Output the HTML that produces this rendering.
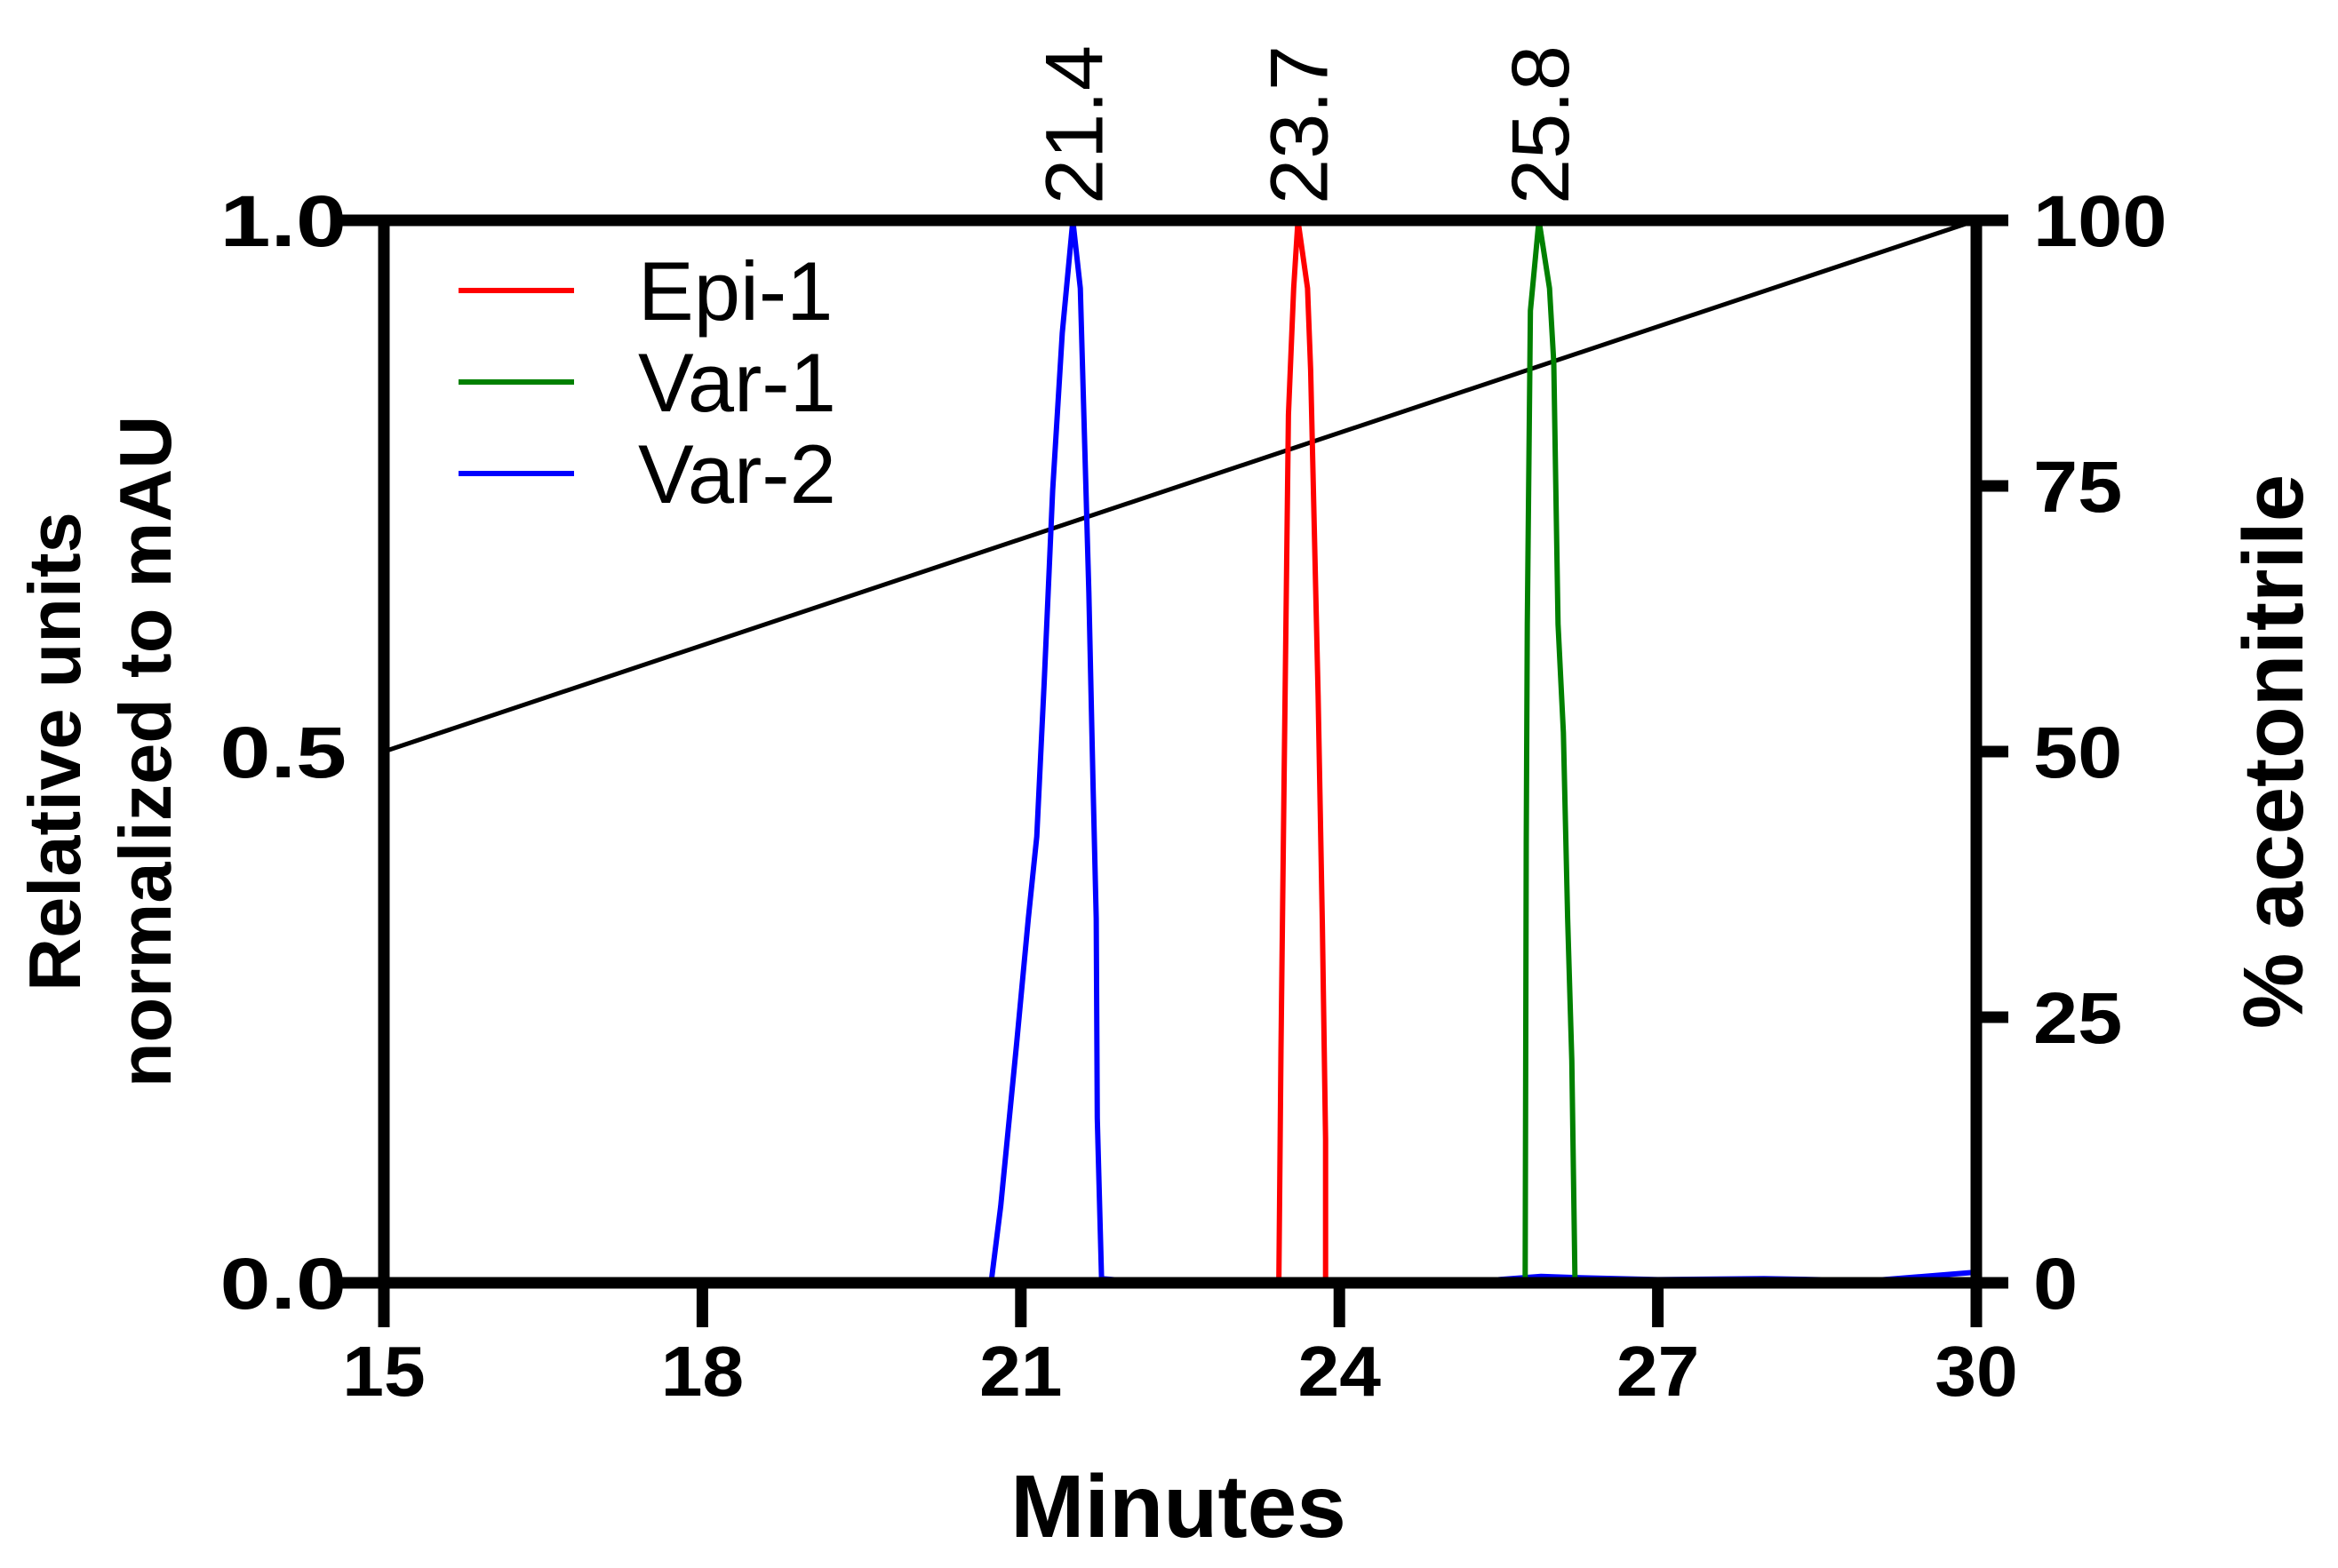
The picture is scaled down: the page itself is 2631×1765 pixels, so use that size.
<!DOCTYPE html>
<html><head><meta charset="utf-8"><style>
html,body{margin:0;padding:0;background:#fff}
svg{display:block}
text{font-family:"Liberation Sans",Arial,sans-serif}
</style></head><body>
<svg id="chart" width="2631" height="1765" viewBox="0 0 2631 1765" xmlns="http://www.w3.org/2000/svg">
<g id="plot"></g>
</svg>
<script>
const xTicks = [15, 18, 21, 24, 27, 30];
const yTicksLeft = ["0.0", "0.5", "1.0"];
const yTicksLeftVals = [0, 0.5, 1.0];
const yTicksRight = [0, 25, 50, 75, 100];
const gradientX = [15, 30];
const gradientY = [50, 100];
const epi1X = [23.43, 23.45, 23.48, 23.52, 23.57, 23.61, 23.70, 23.73, 23.80, 23.84, 23.87, 23.87];
const epi1Y = [0, 0.218, 0.48, 0.817, 0.936, 1.0, 0.936, 0.859, 0.553, 0.336, 0.135, 0];
const var1X = [25.75, 25.76, 25.77, 25.80, 25.88, 25.98, 26.02, 26.06, 26.11, 26.15, 26.19, 26.22];
const var1Y = [0, 0.413, 0.62, 0.915, 1.0, 0.936, 0.866, 0.62, 0.518, 0.343, 0.209, 0];
const var2X = [16.0, 17.0, 18.0, null, 20.72, 20.81, 20.96, 21.07, 21.15, 21.22, 21.30, 21.39, 21.49, 21.56, 21.64, 21.68, 21.71, 21.72, 21.76, 21.99, 23.0, 24.0, 25.0, 25.5, 25.9, 26.2, 27.0, 28.0, 29.0, 30.0];
const var2Y = [0, 0.002, 0.001, null, 0, 0.072, 0.225, 0.343, 0.42, 0.566, 0.746, 0.894, 1.0, 0.936, 0.65, 0.47, 0.343, 0.155, 0.004, 0.002, 0.002, 0.002, 0.002, 0.003, 0.006, 0.005, 0.003, 0.004, 0.002, 0.01];
const peakLabels = ["21.4", "23.7", "25.8"];
const peakLabelX = [21.49, 23.61, 25.88];
const legendNames = ["Epi-1", "Var-1", "Var-2"];
const legendColors = ["#ff0000", "#008000", "#0000ff"];

const L = 432, R = 2224, T = 248, B = 1444;
const xS = v => L + (v - 15) / 15 * (R - L);
const yS = v => B - v * (B - T);
const yR = v => B - v / 100 * (B - T);
const NS = "http://www.w3.org/2000/svg";
const g = document.getElementById('plot');
function mk(tag, attrs, parent) {
  const e = document.createElementNS(NS, tag);
  for (const k in attrs) e.setAttribute(k, attrs[k]);
  (parent || g).appendChild(e);
  return e;
}
function pathFrom(xs, ys, yf) {
  let d = "", pen = false;
  for (let i = 0; i < xs.length; i++) {
    if (xs[i] === null) { pen = false; continue; }
    d += (pen ? "L" : "M") + xS(xs[i]).toFixed(1) + "," + yf(ys[i]).toFixed(1);
    pen = true;
  }
  return d;
}
let e = mk('path', {d: pathFrom(gradientX, gradientY, yR), stroke: '#000', 'stroke-width': 5, fill: 'none'});


const series = [[var2X, var2Y, '#0000ff', 'var-2-line'], [epi1X, epi1Y, '#ff0000', 'epi-1-line'], [var1X, var1Y, '#008000', 'var-1-line']];
series.forEach(s => {
  const p = mk('path', {d: pathFrom(s[0], s[1], yS), stroke: s[2], 'stroke-width': 6, fill: 'none', 'stroke-linejoin': 'round'});
  
  
});
const AW = 13;
e = mk('line', {x1: L - 55, y1: T, x2: R + 6, y2: T, stroke: '#000', 'stroke-width': AW});


e = mk('line', {x1: L - 55, y1: B, x2: R + 6, y2: B, stroke: '#000', 'stroke-width': AW});


e = mk('line', {x1: L, y1: T - 6, x2: L, y2: B + 50, stroke: '#000', 'stroke-width': AW});


e = mk('line', {x1: R, y1: T - 6, x2: R, y2: B + 50, stroke: '#000', 'stroke-width': AW});


xTicks.forEach(v => {
  const t = mk('line', {x1: xS(v), y1: B, x2: xS(v), y2: B + 50, stroke: '#000', 'stroke-width': AW});
  
  
  const l = mk('text', {x: 0, y: 0, 'font-size': 80, 'font-weight': 'bold', 'text-anchor': 'middle', transform: `translate(${xS(v)} ${B + 127}) scale(1.05 1)`});
  l.textContent = v;
  
  
});
yTicksLeftVals.forEach((v, i) => {
  const l = mk('text', {x: 0, y: 0, 'font-size': 82, 'font-weight': 'bold', 'text-anchor': 'end', transform: `translate(390 ${yS(v) + 29}) scale(1.25 1)`});
  l.textContent = yTicksLeft[i];
  
  
});
yTicksRight.forEach(v => {
  const t = mk('line', {x1: R, y1: yR(v), x2: R + 36, y2: yR(v), stroke: '#000', 'stroke-width': AW});
  
  
  const l = mk('text', {x: 0, y: 0, 'font-size': 82, 'font-weight': 'bold', 'text-anchor': 'start', transform: `translate(2288 ${yR(v) + 29}) scale(1.1 1)`});
  l.textContent = v;
  
  
});
peakLabels.forEach((s, i) => {
  const x = xS(peakLabelX[i]) + 33, y = 230;
  const l = mk('text', {x: x, y: y, 'font-size': 92, transform: `rotate(-90 ${x} ${y})`});
  l.textContent = s;
  
  
});
legendNames.forEach((n, i) => {
  const y = 327 + i * 103;
  const ln = mk('line', {x1: 516, y1: y, x2: 646, y2: y, stroke: legendColors[i], 'stroke-width': 6});
  
  
  const t = mk('text', {x: 718, y: y + 33, 'font-size': 94});
  t.textContent = n;
  
  
});
e = mk('text', {x: 1326, y: 1730, 'font-size': 100, 'font-weight': 'bold', 'text-anchor': 'middle'});
e.textContent = 'Minutes';


e = mk('text', {x: 0, y: 0, 'font-size': 83, 'font-weight': 'bold', 'text-anchor': 'middle', transform: 'translate(90 846) rotate(-90)'});
e.textContent = 'Relative units';


e = mk('text', {x: 0, y: 0, 'font-size': 83, 'font-weight': 'bold', 'text-anchor': 'middle', transform: 'translate(192 846) rotate(-90)'});
e.textContent = 'normalized to mAU';


e = mk('text', {x: 0, y: 0, 'font-size': 96, 'font-weight': 'bold', 'text-anchor': 'middle', transform: 'translate(2591 846) rotate(-90)'});
e.textContent = '% acetonitrile';


</script>
</body></html>
